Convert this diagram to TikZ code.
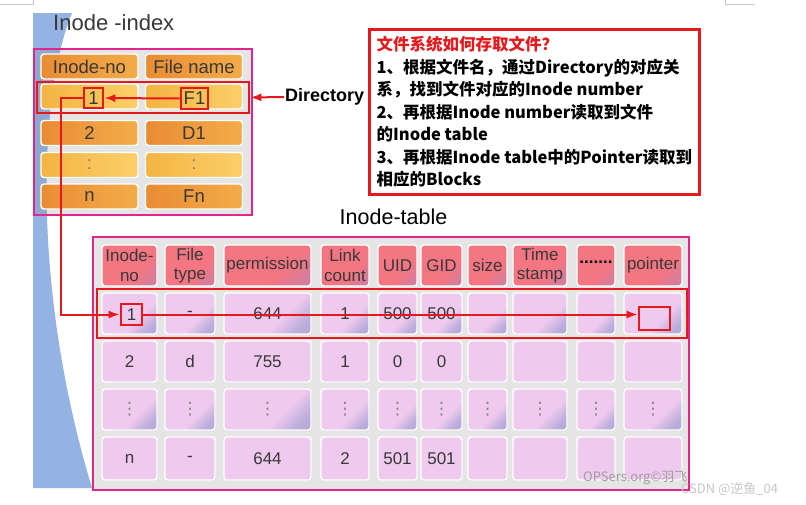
\documentclass[tikz,border=0pt]{standalone}
\usepackage{fontspec}
\setmainfont{Liberation Sans}
\newfontfamily\cjk{Noto Sans CJK SC}
\newfontfamily\dotsfont{DejaVu Sans}
\usetikzlibrary{arrows.meta,shadows}
\definecolor{FrameMagenta}{HTML}{E0268C}
\definecolor{MarkRed}{HTML}{E3191B}
\definecolor{SlideBlue}{HTML}{93B3E3}
\definecolor{OrangeDeep}{HTML}{E98C34}
\definecolor{OrangeMid}{HTML}{F5B24E}
\definecolor{AmberLight}{HTML}{FCD470}
\definecolor{AmberMid}{HTML}{F4B443}
\definecolor{HeadRose}{HTML}{F47682}
\definecolor{HeadPlum}{HTML}{C880A8}
\definecolor{CellPink}{HTML}{EFCAEE}
\definecolor{CellLilac}{HTML}{A9A2D6}
\definecolor{InkGray}{HTML}{383838}
\pgfdeclareverticalshading{rosehead}{100bp}{color(0bp)=(HeadPlum); color(22bp)=(HeadPlum!70!HeadRose); color(38bp)=(HeadRose); color(100bp)=(HeadRose)}
\pgfdeclareverticalshading{lilaccell}{100bp}{color(0bp)=(CellLilac); color(24bp)=(CellLilac!75!CellPink); color(40bp)=(CellPink); color(100bp)=(CellPink)}
\newcommand\colvdots{\textcolor{gray}{\dotsfont ⋮}}
\begin{document}
\begin{tikzpicture}[x=1pt,y=-1pt,
  cellbase/.style={rounded corners=3pt,draw=white,line width=1.4pt,inner sep=0pt,text=InkGray,drop shadow={shadow xshift=0.5pt,shadow yshift=-0.7pt,opacity=0.18}},
  idxcell/.style={cellbase,minimum width=97pt,minimum height=25pt,font=\fontsize{18.5}{20}\selectfont},
  thead/.style={cellbase,shading=rosehead,shading angle=45,minimum height=41pt,align=center,font=\fontsize{17}{19.5}\selectfont},
  tcell/.style={cellbase,fill=CellPink,minimum height=41pt,font=\fontsize{17}{19.5}\selectfont},
  tcellshade/.style={tcell,shading=lilaccell,shading angle=45},
  framebox/.style={draw=FrameMagenta,line width=2.8pt,inner sep=0pt,drop shadow={shadow xshift=0.8pt,shadow yshift=-0.8pt,opacity=0.2}},
  markbox/.style={draw=MarkRed,line width=2.6pt,inner sep=0pt,text=InkGray},
  markarrow/.style={draw=MarkRed,line width=2pt,-{Latex[length=11pt,width=8pt]}}]
\useasboundingbox[fill=white] (0,0) rectangle (806,504);
\fill[SlideBlue] (33,13) -- (72,13) .. controls (38,95) and (32,290) .. (92,488) -- (33,488) -- cycle;
\draw[gray!45,line width=0.6pt] (0,4) -- (33,4) -- (33,0) (725,0) -- (725,4) -- (755,4);
\node[font=\fontsize{22}{24}\selectfont,text=InkGray,anchor=west,inner sep=1pt] (idxtitle) at (52,23) {Inode -index};
\node[framebox,minimum width=218pt,minimum height=166pt] (idxframe) at (143,132) {};
\foreach \row/\ry/\ta/\tb/\lc/\mc in {0/66.5/Inode-no/File name/OrangeDeep/OrangeMid,1/96.5/{}/{}/AmberMid/AmberLight,2/133/2/D1/OrangeDeep/OrangeMid,3/165/{\textcolor{gray}{:}}/{\textcolor{gray}{:}}/AmberMid/AmberLight,4/196.5/n/Fn/OrangeDeep/OrangeMid}{
  \node[idxcell,left color=\lc,middle color=\mc,right color=\mc!85!\lc] (ia\row) at (89.5,\ry) {\ta};
  \node[idxcell,left color=\lc,middle color=\mc,right color=\mc!85!\lc] (ib\row) at (194,\ry) {\tb};
}
\node[markbox,minimum width=212pt,minimum height=31pt] (dirrow) at (143,97.5) {};
\node[markbox,minimum width=19pt,minimum height=20pt,font=\fontsize{18.5}{20}\selectfont] (idxone) at (93.5,98) {1};
\node[markbox,minimum width=27pt,minimum height=21pt,font=\fontsize{18.5}{20}\selectfont] (idxfile) at (194.5,98.5) {F1};
\node[font=\bfseries\fontsize{18}{20}\selectfont,anchor=west,inner sep=1pt] (dirlabel) at (284,97) {Directory};
\node[draw=MarkRed,line width=2.6pt,fill=white,drop shadow={shadow xshift=1.2pt,shadow yshift=-1.2pt,opacity=0.35},anchor=north west,minimum width=330pt,minimum height=165pt,inner sep=4pt,align=left,font=\cjk\bfseries\fontsize{16.5}{22.5}\selectfont] (howto) at (368,28) {\textcolor{MarkRed}{文件系统如何存取文件？}\\1、根据文件名，通过Directory的对应关\\系，找到文件对应的Inode number\\2、再根据Inode number读取到文件\\的Inode table\\3、再根据Inode table中的Pointer读取到\\相应的Blocks};
\node[font=\fontsize{21.5}{24}\selectfont] (tabtitle) at (393.5,217) {Inode-table};
\node[framebox,minimum width=596pt,minimum height=253pt] (tabframe) at (391,363.5) {};
\foreach \col/\cx/\cw/\head/\va/\vb/\vd in {1/129.5/55/{Inode-\\no}/{}/2/n,2/190/50/{File\\type}/-/d/-,3/267.5/87/permission/644/755/644,4/345/48/{Link\\count}/1/1/2,5/397.5/39/UID/500/0/501,6/441.5/41/GID/500/0/501,7/487.5/39/size/{}/{}/{},8/540/54/{Time\\stamp}/{}/{}/{},9/596/38/{\raisebox{7pt}{\bfseries\color{black}.......}}/{}/{}/{},10/653/58/pointer/{}/{}/{}}{
  \node[thead,minimum width=\cw pt] (th\col) at (\cx,265.5) {\head};
  \node[tcellshade,minimum width=\cw pt] (ra\col) at (\cx,313.5) {\va};
  \node[tcell,minimum width=\cw pt] (rb\col) at (\cx,361.5) {\vb};
  \node[tcellshade,minimum width=\cw pt] (rc\col) at (\cx,409.5) {\colvdots};
  \node[tcell,minimum width=\cw pt,minimum height=43pt] (rd\col) at (\cx,458.5) {\vd};
}
\node[markbox,minimum width=590pt,minimum height=49pt] (inoderow) at (392,313.5) {};
\node[markbox,minimum width=21pt,minimum height=21pt,font=\fontsize{17}{19.5}\selectfont] (tabone) at (131.5,314.5) {1};
\node[markbox,minimum width=31pt,minimum height=23pt] (pointerbox) at (654.5,318.5) {};
\draw[markarrow] (dirlabel.west) -- (dirrow.east);
\draw[markarrow] (idxfile.west) -- (idxone.east);
\draw[markarrow] (idxone.west) -- ++(-22,0) |- (tabone.west);
\draw[markarrow] (tabone.east) -- (tabone.east -| pointerbox.west);
\node[font=\cjk\fontsize{13}{14}\selectfont,text=gray!75,anchor=west,inner sep=0pt] (wmsite) at (583,478) {OPSers.org©羽飞};
\node[font=\cjk\fontsize{13}{14}\selectfont,text=gray!45,anchor=west,inner sep=0pt] (wmcsdn) at (681,489) {CSDN @逆鱼\_04};
\end{tikzpicture}
\end{document}
